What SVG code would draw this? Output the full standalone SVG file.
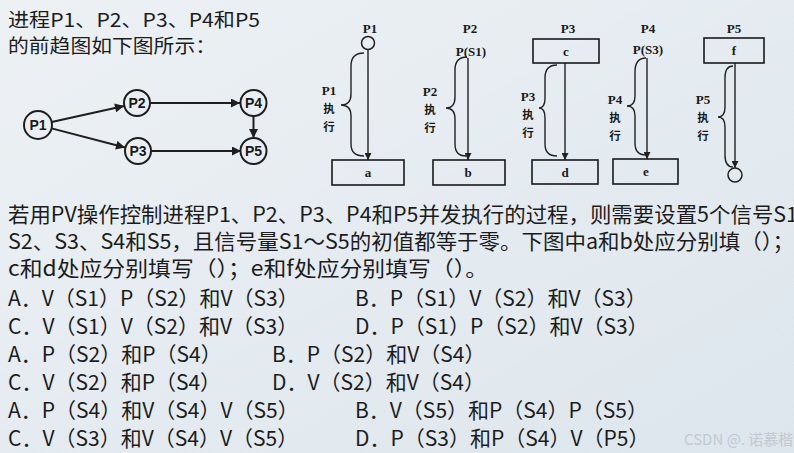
<svg xmlns="http://www.w3.org/2000/svg" width="794" height="453" viewBox="0 0 794 453">
<defs>
<linearGradient id="bg" x1="0" y1="0" x2="1" y2="1">
<stop offset="0" stop-color="#edf1f4"/>
<stop offset="1" stop-color="#dde6ed"/>
</linearGradient>
<marker id="ah" viewBox="0 0 10 10" refX="10" refY="5" markerWidth="12" markerHeight="9" markerUnits="userSpaceOnUse" orient="auto">
<path d="M0,0 L10,5 L0,10 z" fill="#1e1e1e"/>
</marker>
<marker id="ah2" viewBox="0 0 10 10" refX="10" refY="5" markerWidth="10" markerHeight="7" markerUnits="userSpaceOnUse" orient="auto">
<path d="M0,0 L10,5 L0,10 z" fill="#222"/>
</marker>
<style>
.t{font-family:'Noto Sans CJK SC','Noto Sans',sans-serif;font-size:21px;fill:#1c1c1c}
.ti{font-family:'Noto Sans CJK SC','Noto Sans',sans-serif;font-size:19px;fill:#1c1c1c}
.gn circle{fill:none;stroke:#1e1e1e;stroke-width:2}
.gn text{font-family:'Liberation Sans',Arial,sans-serif;font-weight:bold;font-size:14px;fill:#1a1a1a;text-anchor:middle}
.cg line{stroke:#1e1e1e;stroke-width:2;marker-end:url(#ah)}
.rl{font-family:'Liberation Serif',serif;font-weight:bold;font-size:13px;fill:#1a1a1a;text-anchor:middle}
.rc{font-family:'Noto Sans CJK SC',sans-serif;font-weight:bold;font-size:11.5px;fill:#1a1a1a;text-anchor:middle}
.bx{fill:none;stroke:#1a1a1a;stroke-width:1.6}
.vl{stroke:#222;stroke-width:1.4;fill:none;marker-end:url(#ah2)}
.br{stroke:#222;stroke-width:1.4;fill:none}
.wm{font-family:'Noto Sans CJK SC',sans-serif;font-size:15px;fill:#c3c9cf}
</style>
</defs>
<rect width="794" height="453" fill="url(#bg)"/>

<g id="intro">
<text class="ti" x="8" y="27" textLength="252" lengthAdjust="spacingAndGlyphs">进程P1、P2、P3、P4和P5</text>
<text class="ti" x="8" y="53" textLength="208" lengthAdjust="spacingAndGlyphs">的前趋图如下图所示：</text>
</g>

<g id="graph-connectors" class="cg">
<line x1="51.7" y1="122" x2="124" y2="106"/>
<line x1="51.6" y1="128.4" x2="125" y2="147.5"/>
<line x1="150" y1="103" x2="240" y2="103"/>
<line x1="151" y1="151" x2="241" y2="151"/>
<line x1="253.5" y1="116" x2="253.5" y2="138"/>
</g>
<g id="gP1" class="gn"><circle cx="38" cy="125" r="14"/><text x="38" y="130">P1</text></g>
<g id="gP2" class="gn"><circle cx="137" cy="103" r="13"/><text x="137" y="108">P2</text></g>
<g id="gP3" class="gn"><circle cx="138" cy="151" r="13"/><text x="138" y="156">P3</text></g>
<g id="gP4" class="gn"><circle cx="253.5" cy="103" r="13"/><text x="253.5" y="108">P4</text></g>
<g id="gP5" class="gn"><circle cx="253.5" cy="151" r="13"/><text x="253.5" y="156">P5</text></g>

<g id="proc-connectors">
<line class="vl" x1="368" y1="50" x2="368" y2="160"/>
<line class="vl" x1="468" y1="58" x2="468" y2="160"/>
<line class="vl" x1="565" y1="63" x2="565" y2="160"/>
<line class="vl" x1="647" y1="58" x2="647" y2="159"/>
<line class="vl" x1="735" y1="63" x2="735" y2="168"/>
<path class="br" d="M364,53 Q351,53 351,66 L351,94 Q351,105 341,105 Q351,105 351,116 L351,144 Q351,156 364,156"/>
<path class="br" d="M467,57 Q455,57 455,70 L455,97 Q455,108 446,108 Q455,108 455,119 L455,144 Q455,156 466,156"/>
<path class="br" d="M557,65 Q545,65 545,78 L545,98 Q545,108 539,108 Q545,108 545,118 L545,144 Q545,156 557,156"/>
<path class="br" d="M646,58 Q635,58 635,72 L635,96 Q635,106 627,106 Q635,106 635,116 L635,143 Q635,155 646,155"/>
<path class="br" d="M733,66 Q725,66 725,78 L725,107 Q725,117 718,117 Q725,117 725,127 L725,155 Q725,167 733,167"/>
</g>

<g id="proc1">
<text class="rl" x="370" y="33">P1</text>
<circle cx="368" cy="43" r="6.5" fill="none" stroke="#222" stroke-width="1.5"/>
<text class="rl" x="329" y="95">P1</text>
<text class="rc" x="329" y="113">执</text>
<text class="rc" x="329" y="131">行</text>
</g>
<g id="box-a"><rect class="bx" x="332" y="160" width="72" height="25"/><text class="rl" x="368" y="177">a</text></g>

<g id="proc2">
<text class="rl" x="470" y="33">P2</text>
<text class="rl" x="471" y="56">P(S1)</text>
<text class="rl" x="430" y="96">P2</text>
<text class="rc" x="430" y="114">执</text>
<text class="rc" x="430" y="132">行</text>
</g>
<g id="box-b"><rect class="bx" x="433" y="160" width="72" height="25"/><text class="rl" x="468" y="177">b</text></g>

<g id="proc3">
<text class="rl" x="568" y="33">P3</text>
<text class="rl" x="528" y="101">P3</text>
<text class="rc" x="528" y="119">执</text>
<text class="rc" x="528" y="137">行</text>
</g>
<g id="box-c"><rect class="bx" x="533" y="39" width="66" height="24"/><text class="rl" x="566" y="56">c</text></g>
<g id="box-d"><rect class="bx" x="532" y="160" width="66" height="24"/><text class="rl" x="565" y="177">d</text></g>

<g id="proc4">
<text class="rl" x="648" y="33">P4</text>
<text class="rl" x="648" y="54">P(S3)</text>
<text class="rl" x="615" y="104">P4</text>
<text class="rc" x="615" y="122">执</text>
<text class="rc" x="615" y="140">行</text>
</g>
<g id="box-e"><rect class="bx" x="613" y="159" width="65" height="25"/><text class="rl" x="646" y="176">e</text></g>

<g id="proc5">
<text class="rl" x="734" y="33">P5</text>
<text class="rl" x="703" y="104">P5</text>
<text class="rc" x="703" y="122">执</text>
<text class="rc" x="703" y="140">行</text>
<circle cx="735" cy="175" r="7" fill="none" stroke="#222" stroke-width="1.5"/>
</g>
<g id="box-f"><rect class="bx" x="704" y="38" width="60" height="25"/><text class="rl" x="734" y="55">f</text></g>

<g id="question">
<text class="t" x="8" y="222" textLength="790" lengthAdjust="spacingAndGlyphs">若用PV操作控制进程P1、P2、P3、P4和P5并发执行的过程，则需要设置5个信号S1</text>
<text class="t" x="8" y="249" textLength="786" lengthAdjust="spacingAndGlyphs">S2、S3、S4和S5，且信号量S1～S5的初值都等于零。下图中a和b处应分别填（）；</text>
<text class="t" x="8" y="276" textLength="480" lengthAdjust="spacingAndGlyphs">c和d处应分别填写（）；e和f处应分别填写（）。</text>
</g>

<g id="options">
<text class="t" x="8" y="306">A．V（S1）P（S2）和V（S3）</text>
<text class="t" x="355" y="306">B．P（S1）V（S2）和V（S3）</text>
<text class="t" x="8" y="334">C．V（S1）V（S2）和V（S3）</text>
<text class="t" x="355" y="334">D．P（S1）P（S2）和V（S3）</text>
<text class="t" x="8" y="362">A．P（S2）和P（S4）</text>
<text class="t" x="272" y="362">B．P（S2）和V（S4）</text>
<text class="t" x="8" y="390">C．V（S2）和P（S4）</text>
<text class="t" x="272" y="390">D．V（S2）和V（S4）</text>
<text class="t" x="8" y="418">A．P（S4）和V（S4）V（S5）</text>
<text class="t" x="355" y="418">B．V（S5）和P（S4）P（S5）</text>
<text class="t" x="8" y="446">C．V（S3）和V（S4）V（S5）</text>
<text class="t" x="355" y="446">D．P（S3）和P（S4）V（P5）</text>
</g>

<text class="wm" x="684" y="445">CSDN @. 诺慕楷</text>
</svg>
